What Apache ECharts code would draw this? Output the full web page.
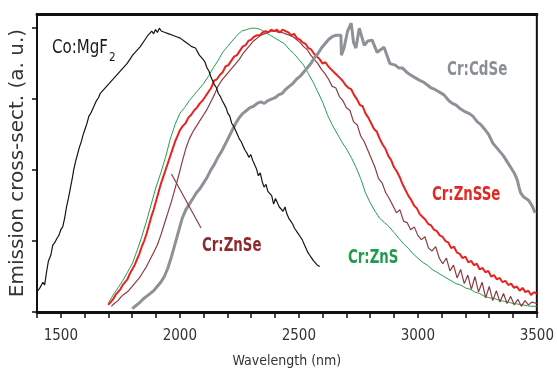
<!DOCTYPE html>
<html>
<head>
<meta charset="utf-8">
<script src="https://cdn.jsdelivr.net/npm/echarts@6/dist/echarts.min.js"></script>
<style>html,body{margin:0;padding:0;background:#fff}#c{width:557px;height:374px}</style>
</head>
<body>
<div id="c"></div>
<script>
// ---- data (wavelength nm, normalized emission cross-section) ----
const xTickLabels = [1500, 2000, 2500, 3000, 3500];
const yTickValues = [0, 0.25, 0.5, 0.75, 1];

const coMgF2 = [[1404,0.075],[1412,0.085],[1418,0.08],[1425,0.105],[1432,0.095],[1440,0.14],[1448,0.18],[1458,0.2],[1466,0.235],[1475,0.245],[1484,0.26],[1492,0.27],[1500,0.29],[1508,0.3],[1516,0.33],[1524,0.37],[1532,0.4],[1541,0.44],[1548,0.47],[1554,0.5],[1562,0.53],[1570,0.555],[1578,0.58],[1586,0.6],[1594,0.625],[1602,0.645],[1610,0.665],[1618,0.69],[1626,0.7],[1634,0.715],[1642,0.73],[1650,0.745],[1658,0.755],[1666,0.77],[1674,0.765],[1682,0.785],[1690,0.79],[1698,0.8],[1706,0.795],[1714,0.815],[1722,0.82],[1730,0.83],[1738,0.825],[1746,0.845],[1754,0.85],[1762,0.86],[1770,0.865],[1778,0.875],[1786,0.885],[1794,0.89],[1802,0.905],[1810,0.9],[1818,0.92],[1826,0.925],[1834,0.935],[1842,0.94],[1850,0.955],[1858,0.96],[1866,0.975],[1874,0.97],[1882,0.99],[1890,0.98],[1898,0.995],[1906,0.985],[1914,1.0],[1922,0.99],[1930,0.995],[1938,0.985],[1946,0.99],[1954,0.98],[1962,0.985],[1970,0.975],[1978,0.98],[1986,0.97],[1994,0.975],[2002,0.965],[2010,0.965],[2018,0.955],[2026,0.96],[2034,0.945],[2042,0.95],[2050,0.935],[2058,0.94],[2066,0.93],[2074,0.925],[2082,0.905],[2090,0.91],[2098,0.89],[2106,0.88],[2114,0.86],[2122,0.85],[2130,0.83],[2138,0.815],[2146,0.8],[2154,0.79],[2162,0.77],[2170,0.76],[2178,0.745],[2186,0.74],[2194,0.72],[2202,0.7],[2210,0.69],[2218,0.665],[2226,0.655],[2234,0.64],[2242,0.625],[2250,0.61],[2258,0.6],[2266,0.585],[2274,0.57],[2282,0.56],[2290,0.545],[2298,0.555],[2306,0.535],[2314,0.53],[2322,0.505],[2330,0.48],[2338,0.49],[2346,0.46],[2354,0.44],[2362,0.45],[2370,0.425],[2378,0.42],[2386,0.41],[2394,0.38],[2402,0.4],[2410,0.385],[2418,0.37],[2426,0.375],[2434,0.355],[2442,0.37],[2450,0.345],[2458,0.33],[2466,0.32],[2474,0.31],[2482,0.295],[2490,0.29],[2498,0.275],[2506,0.265],[2514,0.255],[2522,0.24],[2530,0.225],[2538,0.21],[2546,0.2],[2554,0.19],[2562,0.18],[2570,0.175],[2578,0.165],[2588,0.16]];

const crZnS = [[1699,0.03],[1720,0.06],[1740,0.085],[1760,0.11],[1780,0.14],[1800,0.17],[1820,0.215],[1840,0.265],[1860,0.32],[1880,0.38],[1900,0.44],[1920,0.49],[1940,0.545],[1960,0.61],[1980,0.66],[2000,0.7],[2020,0.72],[2040,0.745],[2060,0.765],[2080,0.785],[2100,0.805],[2120,0.83],[2140,0.86],[2160,0.885],[2180,0.915],[2200,0.935],[2220,0.955],[2240,0.975],[2260,0.99],[2280,0.995],[2300,1.0],[2320,1.0],[2340,0.995],[2360,0.985],[2380,0.975],[2400,0.965],[2420,0.955],[2440,0.945],[2460,0.925],[2480,0.91],[2500,0.89],[2520,0.87],[2540,0.84],[2560,0.81],[2580,0.775],[2600,0.74],[2620,0.695],[2640,0.66],[2660,0.63],[2680,0.6],[2700,0.575],[2720,0.545],[2740,0.51],[2760,0.47],[2780,0.42],[2800,0.385],[2820,0.355],[2840,0.33],[2860,0.315],[2880,0.3],[2900,0.28],[2920,0.26],[2940,0.24],[2960,0.225],[2980,0.205],[3000,0.19],[3020,0.175],[3040,0.165],[3060,0.15],[3080,0.14],[3100,0.13],[3120,0.12],[3140,0.11],[3160,0.1],[3180,0.095],[3200,0.085],[3220,0.08],[3240,0.07],[3260,0.065],[3280,0.055],[3300,0.05],[3320,0.048],[3340,0.042],[3360,0.038],[3380,0.035],[3400,0.03],[3420,0.028],[3440,0.025],[3460,0.022],[3480,0.02],[3500,0.02]];

const crZnSe = [[1712,0.02],[1725,0.03],[1740,0.04],[1755,0.055],[1770,0.065],[1785,0.075],[1800,0.09],[1815,0.105],[1830,0.12],[1845,0.14],[1860,0.16],[1875,0.185],[1890,0.21],[1905,0.235],[1920,0.27],[1935,0.31],[1950,0.35],[1965,0.39],[1980,0.435],[1995,0.48],[2010,0.53],[2025,0.575],[2040,0.61],[2055,0.635],[2070,0.655],[2085,0.675],[2100,0.695],[2115,0.715],[2130,0.74],[2145,0.765],[2160,0.795],[2175,0.815],[2190,0.83],[2205,0.845],[2220,0.86],[2235,0.875],[2250,0.89],[2265,0.91],[2280,0.925],[2295,0.94],[2310,0.955],[2325,0.965],[2340,0.975],[2355,0.98],[2370,0.985],[2385,0.99],[2400,0.99],[2415,0.985],[2430,0.985],[2445,0.98],[2460,0.975],[2475,0.97],[2490,0.96],[2505,0.95],[2520,0.935],[2535,0.925],[2550,0.905],[2565,0.89],[2580,0.875],[2595,0.855],[2610,0.84],[2625,0.82],[2640,0.795],[2655,0.79],[2670,0.76],[2685,0.745],[2700,0.72],[2715,0.71],[2730,0.67],[2745,0.66],[2760,0.62],[2775,0.6],[2790,0.57],[2805,0.54],[2820,0.51],[2835,0.47],[2850,0.455],[2865,0.42],[2880,0.4],[2895,0.375],[2910,0.35],[2925,0.36],[2940,0.32],[2955,0.315],[2970,0.29],[2985,0.3],[3000,0.27],[3015,0.255],[3030,0.265],[3045,0.225],[3060,0.215],[3075,0.23],[3090,0.19],[3105,0.17],[3120,0.19],[3135,0.145],[3150,0.165],[3165,0.12],[3180,0.15],[3195,0.1],[3210,0.13],[3225,0.08],[3240,0.125],[3255,0.07],[3270,0.105],[3285,0.05],[3300,0.09],[3315,0.04],[3330,0.075],[3345,0.035],[3360,0.065],[3375,0.03],[3390,0.055],[3405,0.025],[3420,0.045],[3435,0.02],[3450,0.04],[3465,0.025],[3480,0.035],[3500,0.03]];

const crZnSSe = [[1699,0.025],[1710,0.035],[1720,0.045],[1730,0.06],[1740,0.07],[1750,0.08],[1760,0.095],[1770,0.105],[1780,0.115],[1790,0.135],[1800,0.15],[1810,0.165],[1820,0.185],[1830,0.205],[1840,0.23],[1850,0.25],[1860,0.275],[1870,0.305],[1880,0.335],[1890,0.36],[1900,0.39],[1910,0.42],[1920,0.45],[1930,0.475],[1940,0.5],[1950,0.525],[1960,0.55],[1970,0.575],[1980,0.6],[1990,0.62],[2000,0.64],[2012,0.655],[2024,0.665],[2036,0.685],[2048,0.695],[2060,0.71],[2072,0.72],[2084,0.735],[2096,0.745],[2108,0.76],[2120,0.775],[2132,0.79],[2144,0.815],[2156,0.82],[2168,0.835],[2180,0.845],[2192,0.865],[2204,0.87],[2216,0.885],[2228,0.9],[2240,0.905],[2252,0.92],[2264,0.935],[2276,0.94],[2288,0.955],[2300,0.96],[2312,0.97],[2324,0.975],[2336,0.975],[2348,0.985],[2360,0.99],[2372,0.985],[2384,0.995],[2396,0.99],[2408,0.995],[2420,0.985],[2432,0.995],[2444,0.99],[2456,0.985],[2468,0.975],[2480,0.98],[2492,0.965],[2504,0.96],[2516,0.95],[2528,0.945],[2540,0.93],[2552,0.925],[2564,0.91],[2576,0.9],[2588,0.89],[2600,0.875],[2612,0.88],[2624,0.865],[2636,0.855],[2648,0.845],[2660,0.835],[2672,0.825],[2684,0.815],[2696,0.8],[2708,0.79],[2720,0.785],[2732,0.765],[2744,0.75],[2756,0.73],[2768,0.725],[2780,0.7],[2792,0.685],[2804,0.665],[2816,0.645],[2828,0.635],[2840,0.61],[2852,0.59],[2864,0.575],[2876,0.55],[2888,0.535],[2900,0.51],[2912,0.495],[2924,0.475],[2936,0.45],[2948,0.43],[2960,0.41],[2972,0.395],[2984,0.375],[2996,0.365],[3008,0.345],[3020,0.335],[3032,0.325],[3044,0.31],[3056,0.305],[3068,0.29],[3080,0.285],[3092,0.27],[3104,0.265],[3116,0.25],[3128,0.245],[3140,0.225],[3152,0.23],[3164,0.21],[3176,0.205],[3188,0.19],[3200,0.195],[3212,0.175],[3224,0.18],[3236,0.165],[3248,0.17],[3260,0.15],[3272,0.155],[3284,0.14],[3296,0.145],[3308,0.125],[3320,0.13],[3332,0.115],[3344,0.12],[3356,0.105],[3368,0.11],[3380,0.095],[3392,0.1],[3404,0.085],[3416,0.09],[3428,0.075],[3440,0.085],[3452,0.07],[3464,0.075],[3476,0.06],[3488,0.07],[3500,0.065]];

const crCdSe = [[1800,0.012],[1815,0.022],[1830,0.032],[1845,0.045],[1860,0.055],[1875,0.065],[1890,0.075],[1905,0.09],[1920,0.105],[1935,0.125],[1950,0.155],[1965,0.195],[1980,0.24],[1995,0.285],[2010,0.33],[2025,0.36],[2040,0.38],[2055,0.4],[2070,0.42],[2085,0.435],[2100,0.455],[2115,0.475],[2130,0.5],[2145,0.52],[2160,0.545],[2175,0.565],[2190,0.59],[2205,0.615],[2220,0.64],[2235,0.665],[2250,0.685],[2265,0.7],[2280,0.71],[2295,0.72],[2310,0.725],[2325,0.735],[2340,0.74],[2355,0.735],[2370,0.745],[2385,0.75],[2400,0.755],[2415,0.765],[2430,0.77],[2445,0.785],[2460,0.795],[2475,0.805],[2490,0.82],[2505,0.83],[2520,0.845],[2535,0.86],[2550,0.875],[2565,0.895],[2580,0.91],[2595,0.93],[2610,0.945],[2625,0.96],[2640,0.97],[2657,0.975],[2677,0.975],[2679,0.905],[2690,0.93],[2705,0.99],[2720,1.018],[2730,0.95],[2740,0.93],[2754,1.0],[2775,0.94],[2790,0.955],[2808,0.958],[2829,0.915],[2858,0.933],[2883,0.875],[2905,0.87],[2920,0.86],[2935,0.86],[2953,0.845],[2970,0.835],[2990,0.825],[3010,0.815],[3024,0.81],[3040,0.8],[3055,0.79],[3070,0.785],[3090,0.775],[3110,0.765],[3130,0.745],[3145,0.735],[3161,0.729],[3180,0.715],[3200,0.705],[3215,0.7],[3231,0.69],[3250,0.67],[3265,0.66],[3280,0.645],[3298,0.625],[3315,0.595],[3330,0.58],[3345,0.565],[3360,0.55],[3375,0.53],[3390,0.51],[3405,0.49],[3418,0.465],[3425,0.44],[3432,0.42],[3445,0.405],[3465,0.394],[3480,0.375],[3493,0.349]];

// pointer line from the "Cr:ZnSe" label to its curve
const znSeLeader = [[1965,0.486],[2089,0.296]];

const axisFont = "'DejaVu Sans Condensed','Liberation Sans Narrow',sans-serif";

const chart = echarts.init(document.getElementById('c'), null, {renderer: 'canvas'});

function curve(name, data, color, width, z) {
  return {
    name: name, type: 'line', data: data, showSymbol: false, symbol: 'none',
    lineStyle: {color: color, width: width}, z: z, animation: false, silent: true
  };
}

function label(text, x, y, color, bold, size, sx) {
  return {
    type: 'text', x: x, y: y, scaleX: sx, scaleY: 1, z: 10, silent: true,
    style: {text: text, fontFamily: axisFont, fontWeight: bold ? 'bold' : 'normal', fontSize: size,
            fill: color, textAlign: 'left', textVerticalAlign: 'middle'}
  };
}

chart.setOption({
  animation: false,
  backgroundColor: '#ffffff',
  grid: {left: 36, right: 15, top: 14, bottom: 62, show: true, borderColor: '#111', borderWidth: 2},
  xAxis: [{
    type: 'value', min: 1400, max: 3500, interval: 100,
    name: 'Wavelength (nm)', nameLocation: 'middle', nameGap: 42,
    nameTextStyle: {fontFamily: axisFont, fontSize: 14, color: '#333'},
    axisLine: {show: true, lineStyle: {color: '#111', width: 3}},
    axisTick: {show: true, inside: false, length: 6, lineStyle: {color: '#111', width: 1.5}},
    axisLabel: {
      margin: 17, fontFamily: axisFont, fontSize: 15, color: '#333',
      formatter: function (v) { return xTickLabels.indexOf(v) >= 0 ? String(v) : ''; }
    },
    splitLine: {show: false}
  }, {
    type: 'value', min: 1400, max: 3500, position: 'top',
    axisLine: {show: true, lineStyle: {color: '#111', width: 3}},
    axisTick: {show: false}, axisLabel: {show: false}, splitLine: {show: false}
  }],
  yAxis: {
    type: 'value', min: 0, max: 1.05,
    name: 'Emission cross-sect. (a. u.)', nameLocation: 'middle', nameGap: 9, nameRotate: 90,
    nameTextStyle: {fontFamily: "'DejaVu Sans',sans-serif", fontSize: 20, color: '#333'},
    axisLine: {show: true, lineStyle: {color: '#111', width: 2}},
    axisTick: {show: true, inside: false, length: 5, customValues: yTickValues, lineStyle: {color: '#111', width: 1.5}},
    axisLabel: {show: false},
    splitLine: {show: false}
  },
  series: [
    curve('Cr:ZnS', crZnS, '#22a052', 1, 2),
    curve('Cr:ZnSe', crZnSe, '#8e3b42', 1.2, 3),
    curve('Cr:ZnSSe', crZnSSe, '#e8231f', 2, 4),
    curve('Cr:CdSe', crCdSe, '#8d9198', 3, 5),
    curve('Co:MgF2', coMgF2, '#151515', 1.2, 6),
    curve('leader', znSeLeader, '#8e3b42', 1.2, 7)
  ],
  graphic: [
    label('Co:MgF', 52, 48, '#1a1a1a', false, 19, 0.88),
    label('2', 109, 58, '#1a1a1a', false, 13, 0.9),
    label('Cr:CdSe', 447, 70, '#8a8f96', true, 20, 0.75),
    label('Cr:ZnSSe', 432, 195, '#e02a26', true, 20, 0.74),
    label('Cr:ZnS', 348, 258, '#1e9c4e', true, 20, 0.74),
    label('Cr:ZnSe', 202, 246, '#8c2a2e', true, 20, 0.74)
  ]
});
</script>
</body>
</html>
